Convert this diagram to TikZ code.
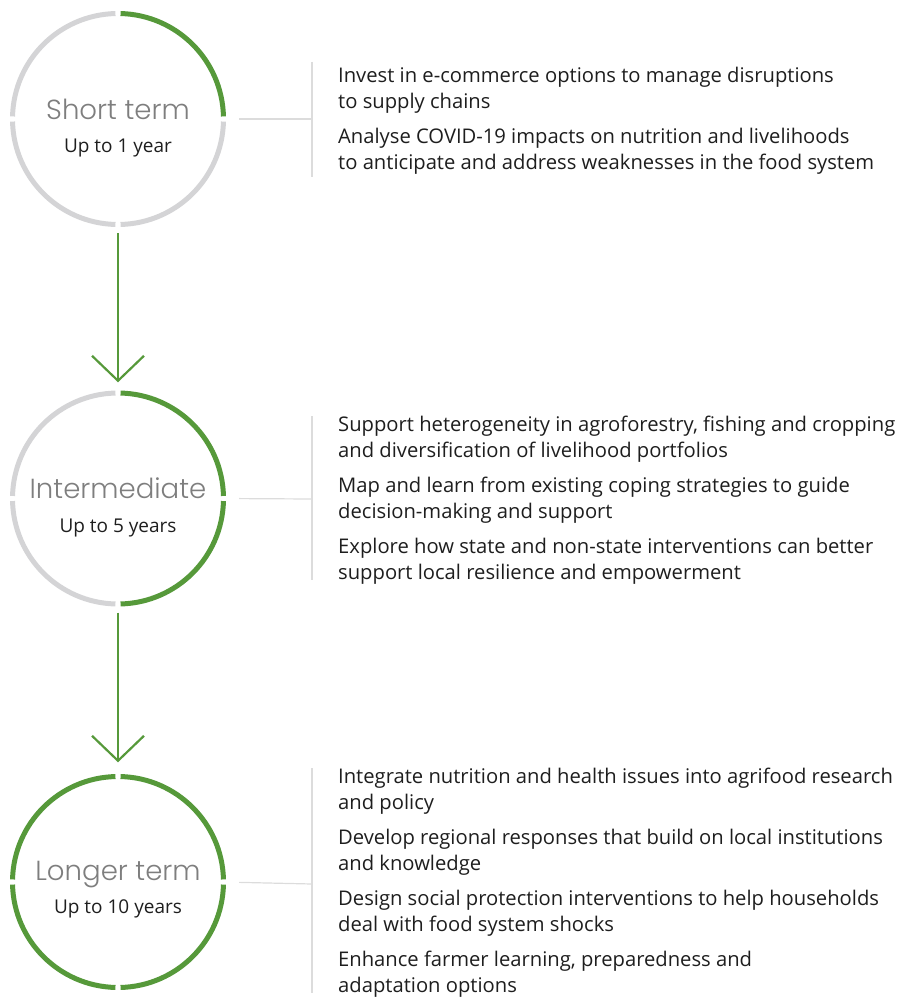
\documentclass[tikz,border=0pt]{standalone}
\usepackage{fontspec}
\setmainfont{Open Sans}
\newfontfamily\titlefont{Poppins Light}
\usetikzlibrary{arrows.meta}
\definecolor{leafgreen}{HTML}{56993A}
\definecolor{ringgray}{HTML}{D4D4D6}
\definecolor{rulegray}{HTML}{DCDCDC}
\definecolor{titlegray}{HTML}{7E7E7E}
\definecolor{inkgray}{HTML}{1E1E1E}

\begin{document}
\begin{tikzpicture}[x=1pt, y=1pt,
  phase/.style={circle, minimum size=211pt, inner sep=0pt},
  grn/.style={draw=leafgreen, line width=5pt},
  gry/.style={draw=ringgray, line width=5pt},
  title/.style={anchor=base, inner sep=0pt, text=titlegray, font=\titlefont\fontsize{27.6}{30}\selectfont},
  span/.style={anchor=base, inner sep=0pt, text=inkgray, font=\fontsize{19}{22}\selectfont},
  item/.style={anchor=base west, inner sep=0pt, align=left, text=inkgray, font=\fontsize{20.2}{26}\selectfont},
  conn/.style={draw=rulegray, line width=1.2pt},
  flow/.style={draw=leafgreen, line width=2.2pt, -{Straight Barb[length=25pt, width=52pt]}}]
  \useasboundingbox (0,0) rectangle (906,-998);

  \node[phase] (short) at (118,-119) {};
  \node[phase] (inter) at (118,-498.5) {};
  \node[phase] (longer) at (118,-882) {};

  \draw[grn] ([shift={(1.4:105.5)}]short.center) arc[start angle=1.4, end angle=88.6, radius=105.5];
  \draw[gry] ([shift={(91.4:105.5)}]short.center) arc[start angle=91.4, end angle=178.6, radius=105.5];
  \draw[gry] ([shift={(181.4:105.5)}]short.center) arc[start angle=181.4, end angle=268.6, radius=105.5];
  \draw[gry] ([shift={(271.4:105.5)}]short.center) arc[start angle=271.4, end angle=358.6, radius=105.5];

  \draw[grn] ([shift={(1.4:105.5)}]inter.center) arc[start angle=1.4, end angle=88.6, radius=105.5];
  \draw[gry] ([shift={(91.4:105.5)}]inter.center) arc[start angle=91.4, end angle=178.6, radius=105.5];
  \draw[gry] ([shift={(181.4:105.5)}]inter.center) arc[start angle=181.4, end angle=268.6, radius=105.5];
  \draw[grn] ([shift={(271.4:105.5)}]inter.center) arc[start angle=271.4, end angle=358.6, radius=105.5];

  \draw[grn] ([shift={(1.4:105.5)}]longer.center) arc[start angle=1.4, end angle=88.6, radius=105.5];
  \draw[grn] ([shift={(91.4:105.5)}]longer.center) arc[start angle=91.4, end angle=178.6, radius=105.5];
  \draw[grn] ([shift={(181.4:105.5)}]longer.center) arc[start angle=181.4, end angle=268.6, radius=105.5];
  \draw[grn] ([shift={(271.4:105.5)}]longer.center) arc[start angle=271.4, end angle=358.6, radius=105.5];

  \node[title] (stitle) at (118,-119) {Short term};
  \node[span] (sspan) at (118,-152) {Up to 1 year};
  \node[title] (ititle) at (118,-498) {Intermediate};
  \node[span] (ispan) at (118,-532) {Up to 5 years};
  \node[title] (ltitle) at (118,-880) {Longer term};
  \node[span] (lspan) at (118,-913) {Up to 10 years};

  \draw[flow, shorten <=8.5pt, shorten >=10.5pt] (short.south) -- (inter.north);
  \draw[flow, shorten <=8.5pt, shorten >=14pt] (inter.south) -- (longer.north);

  \coordinate (sjoin) at (312,-119);
  \coordinate (stop) at (312,-62);
  \coordinate (sbot) at (312,-177);
  \coordinate (ijoin) at (312,-499);
  \coordinate (itop) at (312,-416);
  \coordinate (ibot) at (312,-580);
  \coordinate (ljoin) at (312,-884);
  \coordinate (ltop) at (312,-768);
  \coordinate (lbot) at (312,-993);

  \draw[conn, shorten <=15.5pt] (short.east) -- (sjoin);
  \draw[conn] (stop) -- (sbot);
  \draw[conn, shorten <=15.5pt] (inter.east) -- (ijoin);
  \draw[conn] (itop) -- (ibot);
  \draw[conn, shorten <=15.5pt] (longer.east) -- (ljoin);
  \draw[conn] (ltop) -- (lbot);

  \node[item] (s1) at (338,-108) {Invest in e-commerce options to manage disruptions\\to supply chains};
  \node[item] (s2) at (338,-169) {Analyse COVID-19 impacts on nutrition and livelihoods\\to anticipate and address weaknesses in the food system};

  \node[item] (i1) at (338,-457) {Support heterogeneity in agroforestry, fishing and cropping\\and diversification of livelihood portfolios};
  \node[item] (i2) at (338,-518) {Map and learn from existing coping strategies to guide\\decision-making and support};
  \node[item] (i3) at (338,-579) {Explore how state and non-state interventions can better\\support local resilience and empowerment};

  \node[item] (l1) at (338,-809) {Integrate nutrition and health issues into agrifood research\\and policy};
  \node[item] (l2) at (338,-870) {Develop regional responses that build on local institutions\\and knowledge};
  \node[item] (l3) at (338,-931) {Design social protection interventions to help households\\deal with food system shocks};
  \node[item] (l4) at (338,-992) {Enhance farmer learning, preparedness and\\adaptation options};
\end{tikzpicture}
\end{document}
